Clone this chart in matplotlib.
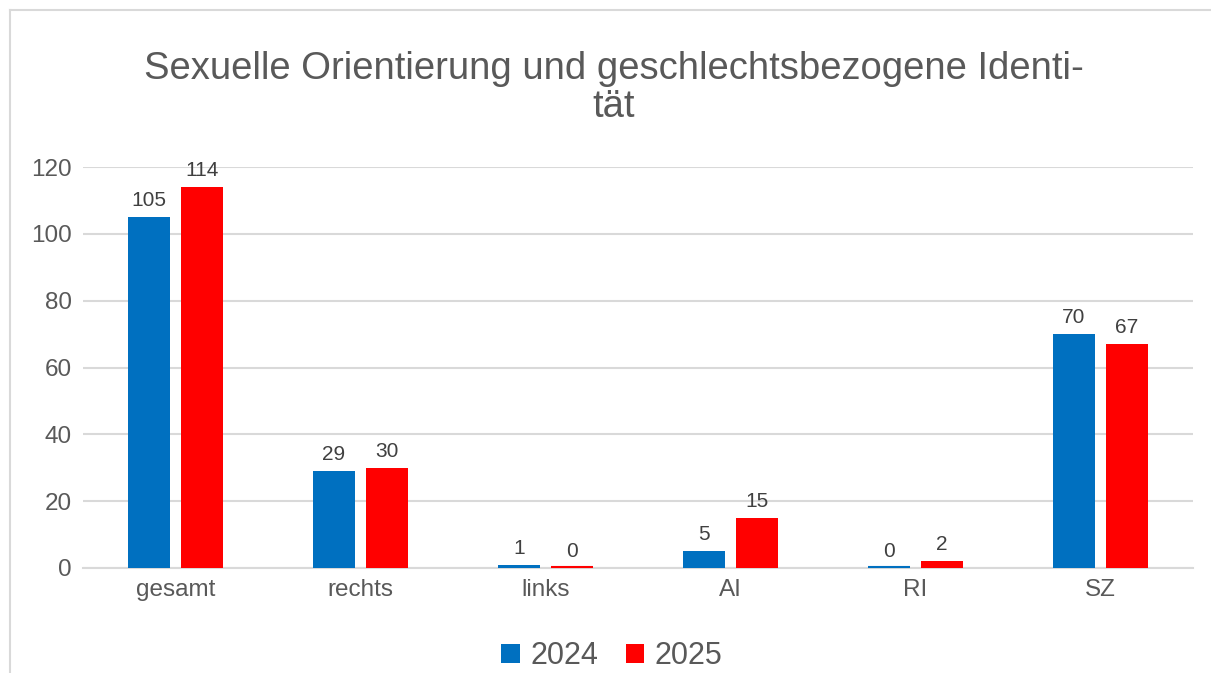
import numpy as np
import matplotlib
matplotlib.use('Agg')
import matplotlib.pyplot as plt
from matplotlib.lines import Line2D

plt.rcParams['font.family'] = ['Liberation Sans', 'DejaVu Sans']

categories = ['gesamt', 'rechts', 'links', 'AI', 'RI', 'SZ']
werte_2024 = [105, 29, 1, 5, 0, 70]
werte_2025 = [114, 30, 0, 15, 2, 67]
jahre = ['2024', '2025']
titel = 'Sexuelle Orientierung und geschlechtsbezogene Identi-\ntät'

blau = '#0070C0'
rot = '#FF0000'
grau = '#595959'

fig = plt.figure(figsize=(12.11, 6.73), dpi=100)
ax = fig.add_axes([83 / 1211, 1 - 568 / 673, 1110 / 1211, 401 / 673])

x = np.arange(len(categories))
breite = 0.227
versatz = 0.143

b1 = ax.bar(x - versatz, werte_2024, breite, color=blau,
            label=jahre[0], zorder=3)
b2 = ax.bar(x + versatz, werte_2025, breite, color=rot,
            label=jahre[1], zorder=3)

for bars, werte, farbe in [(b1, werte_2024, blau), (b2, werte_2025, rot)]:
    for b, v in zip(bars, werte):
        ax.annotate(str(v), (b.get_x() + b.get_width() / 2, v),
                    xytext=(0, 5), textcoords='offset points',
                    ha='center', va='bottom', fontsize=15, color='#404040')
        if v == 0:
            # Nullwerte als duenne Linie wie in Excel
            ax.plot([b.get_x(), b.get_x() + b.get_width()], [0.25, 0.25],
                    color=farbe, linewidth=1.5, zorder=4, clip_on=False,
                    solid_capstyle='butt')

ax.set_xlim(-0.5, len(categories) - 0.5)
ax.set_ylim(0, 120)
ax.set_yticks(range(0, 121, 20))
ax.set_xticks(x)
ax.set_xticklabels(categories)
ax.grid(axis='y', color='#D9D9D9', linewidth=1.5, zorder=0)
ax.tick_params(axis='both', length=0, labelsize=17.5, colors=grau)
ax.tick_params(axis='y', pad=8)
ax.tick_params(axis='x', pad=8)
for s in ['top', 'right', 'left']:
    ax.spines[s].set_visible(False)
ax.spines['bottom'].set_color('#D9D9D9')
ax.spines['bottom'].set_linewidth(1.5)

fig.text(614 / 1211, 1 - 88 / 673, titel, ha='center', va='center',
         fontsize=27.5, color=grau, linespacing=1.1)

leg = fig.legend(handles=[b1, b2], labels=jahre, loc='center',
                 bbox_to_anchor=(612 / 1211, 1 - 656 / 673), ncol=2,
                 frameon=False, fontsize=22, handlelength=0.6,
                 handleheight=0.6, handletextpad=0.35, columnspacing=0.9)
for t in leg.get_texts():
    t.set_color(grau)

# Rahmen des Diagramms (rechts/unten abgeschnitten)
fig.add_artist(Line2D([10 / 1211, 1.0], [1 - 10 / 673, 1 - 10 / 673],
                      color='#D9D9D9', linewidth=1.5))
fig.add_artist(Line2D([10 / 1211, 10 / 1211], [0, 1 - 10 / 673],
                      color='#D9D9D9', linewidth=1.5))

fig.savefig('out.png', dpi=100)
